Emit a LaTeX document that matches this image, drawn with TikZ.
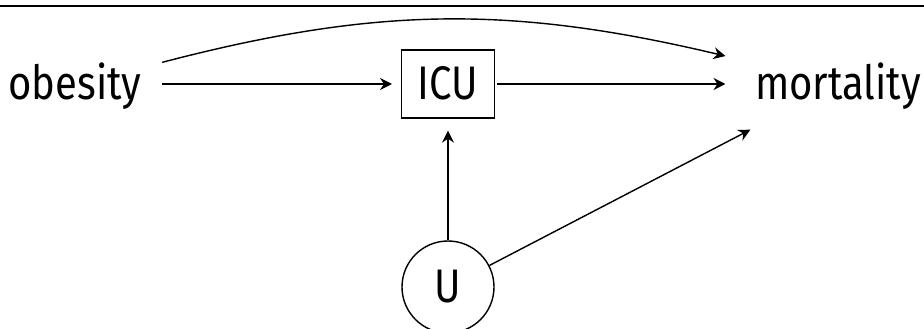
\documentclass[tikz,border=0pt]{standalone}
\usepackage{fontspec}
\setmainfont[FakeStretch=0.85]{Fira Sans}
\usetikzlibrary{arrows.meta}
\begin{document}
\begin{tikzpicture}[
    line width=1pt,
    var/.style={text height=0.8cm, text depth=0pt, font=\fontsize{33.5}{40}\selectfont},
    box/.style={var, rectangle, draw, minimum width=2.325cm, minimum height=1.7cm},
    latent/.style={var, circle, draw, minimum size=2.3cm, inner sep=0pt},
    >={Stealth[length=0.3cm, width=0.3cm, inset=0.1cm]}
]
\useasboundingbox (0,0) rectangle (23.1,8.2);
% Linie oben
\draw[line width=2pt] (0,8.05) -- (23.1,8.05);

% Variablen
\node[var, inner sep=0.5cm] at (1.875,6.1) (obesity) {obesity};
\node[box] at (11.2,6.1) (icu) {ICU};
\node[var, inner sep=0.725cm] at (20.95,6.1) (mortality) {mortality};
\node[latent] at (11.2,1.025) (u) {U};

% Pfeile
\draw[->, shorten >=0.22cm] (obesity) -- (icu);
\draw[->, shorten <=0.05cm] (icu) -- (mortality);
\draw[->] (obesity) to[bend left=14] (mortality);
\draw[->, shorten >=0.3cm] (u) -- (icu);
\draw[->] (u) -- (mortality);
\end{tikzpicture}
\end{document}
